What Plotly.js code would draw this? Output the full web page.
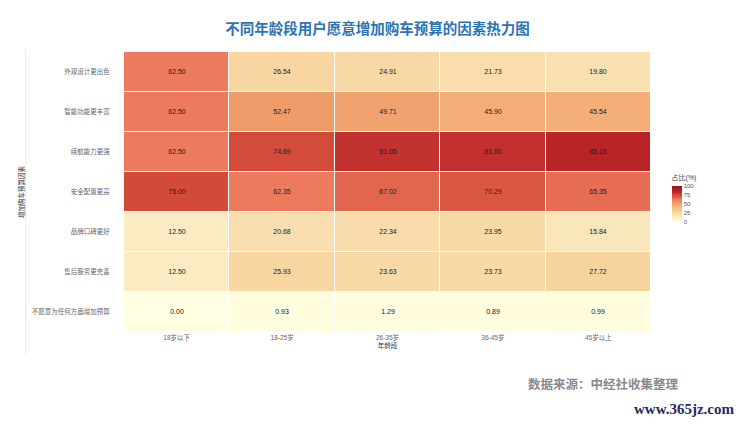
<!DOCTYPE html>
<html>
<head>
<meta charset="utf-8">
<script src="https://cdn.plot.ly/plotly-3.0.1.min.js"></script>
<style>
  html, body { margin: 0; padding: 0; background: #fff; }
  #chart { width: 750px; height: 424px; }
</style>
</head>
<body>
<div id="chart"></div>
<script>
var ageGroups = ['18岁以下', '18-25岁', '26-35岁', '36-45岁', '45岁以上'];
var factors = ['外观设计更出色', '智能功能更丰富', '续航能力更强', '安全配置更高',
               '品牌口碑更好', '售后服务更完善', '不愿意为任何方面增加预算'];

var design   = [62.50, 26.54, 24.91, 21.73, 19.80];
var smart    = [62.50, 52.47, 49.71, 45.90, 45.54];
var range    = [62.50, 74.69, 81.05, 81.60, 85.15];
var safety   = [75.00, 62.35, 67.02, 70.29, 65.35];
var brand    = [12.50, 20.68, 22.34, 23.95, 15.84];
var service  = [12.50, 25.93, 23.63, 23.73, 27.72];
var noBudget = [0.00, 0.93, 1.29, 0.89, 0.99];

var cjk = '"Liberation Sans", "Noto Sans CJK SC", sans-serif';
var titleFont = '"Noto Sans CJK SC", "Noto Sans", sans-serif';

var heat = {
  type: 'heatmap',
  x: ageGroups,
  y: factors,
  z: [design, smart, range, safety, brand, service, noBudget],
  zmin: 0,
  zmax: 100,
  xgap: 1,
  ygap: 1,
  colorscale: [
    [0, '#fffee0'],
    [0.125, '#fbebc3'],
    [0.25, '#f8d8a4'],
    [0.45, '#f4b078'],
    [0.525, '#f09b6a'],
    [0.625, '#ec7a5c'],
    [0.70, '#db5843'],
    [0.75, '#d14a3a'],
    [0.82, '#c02e2d'],
    [0.86, '#b62226'],
    [1, '#9a1420']
  ],
  texttemplate: '%{z:.2f}',
  textfont: {size: 7, color: '#222', family: cjk},
  hoverinfo: 'none',
  colorbar: {
    title: {text: '占比(%)', side: 'top', font: {size: 7, color: '#444', family: cjk}},
    thickness: 10,
    len: 50,
    lenmode: 'pixels',
    x: 1.039,
    xanchor: 'left',
    xpad: 0,
    y: 0.482,
    yanchor: 'middle',
    ypad: 0,
    outlinewidth: 0,
    tickvals: [0, 25, 50, 75, 100],
    tickfont: {size: 6, color: '#555', family: cjk},
    ticks: ''
  }
};

var layout = {
  width: 750,
  height: 424,
  margin: {l: 123.5, r: 98.5, t: 51.7, b: 92.3},
  paper_bgcolor: '#fff',
  plot_bgcolor: '#fff',
  font: {family: cjk},
  title: {
    text: '<b>不同年龄段用户愿意增加购车预算的因素热力图</b>',
    x: 0.481,
    xref: 'paper',
    xanchor: 'center',
    y: 0.932,
    yref: 'container',
    yanchor: 'middle',
    font: {size: 14.5, color: '#2b73b3', family: titleFont}
  },
  xaxis: {
    showgrid: false,
    zeroline: false,
    showline: false,
    ticks: '',
    tickfont: {size: 6.5, color: '#666'},
    title: {text: '年龄段', standoff: 2, font: {size: 6.5, color: '#333'}}
  },
  yaxis: {
    autorange: 'reversed',
    showgrid: false,
    zeroline: false,
    showline: false,
    ticks: 'outside',
    ticklen: 12,
    tickcolor: 'rgba(0,0,0,0)',
    tickfont: {size: 6.5, color: '#666'},
    title: {text: '增加购车预算因素', standoff: 6, font: {size: 6.5, color: '#333'}}
  },
  shapes: [{
    type: 'line', xref: 'paper', yref: 'paper',
    x0: -0.1866, x1: -0.1866, y0: 1.013, y1: -0.083,
    line: {color: '#ececec', width: 1}
  }],
  annotations: [
    {
      text: '<b>数据来源：中经社收集整理</b>',
      xref: 'paper', yref: 'paper',
      x: (604 - 123.5) / 528, y: (331.7 - 383) / 280,
      xanchor: 'center', yanchor: 'middle',
      showarrow: false,
      font: {size: 12.5, color: '#8a8a8a', family: titleFont}
    },
    {
      text: '<b>www.365jz.com</b>',
      xref: 'paper', yref: 'paper',
      x: (685 - 123.5) / 528, y: (331.7 - 409) / 280,
      xanchor: 'center', yanchor: 'middle',
      showarrow: false,
      font: {size: 15, color: '#1b2d5e', family: '"Liberation Serif", "DejaVu Serif", serif'}
    }
  ]
};

Plotly.newPlot('chart', [heat], layout, {displayModeBar: false, staticPlot: true});
</script>
</body>
</html>
